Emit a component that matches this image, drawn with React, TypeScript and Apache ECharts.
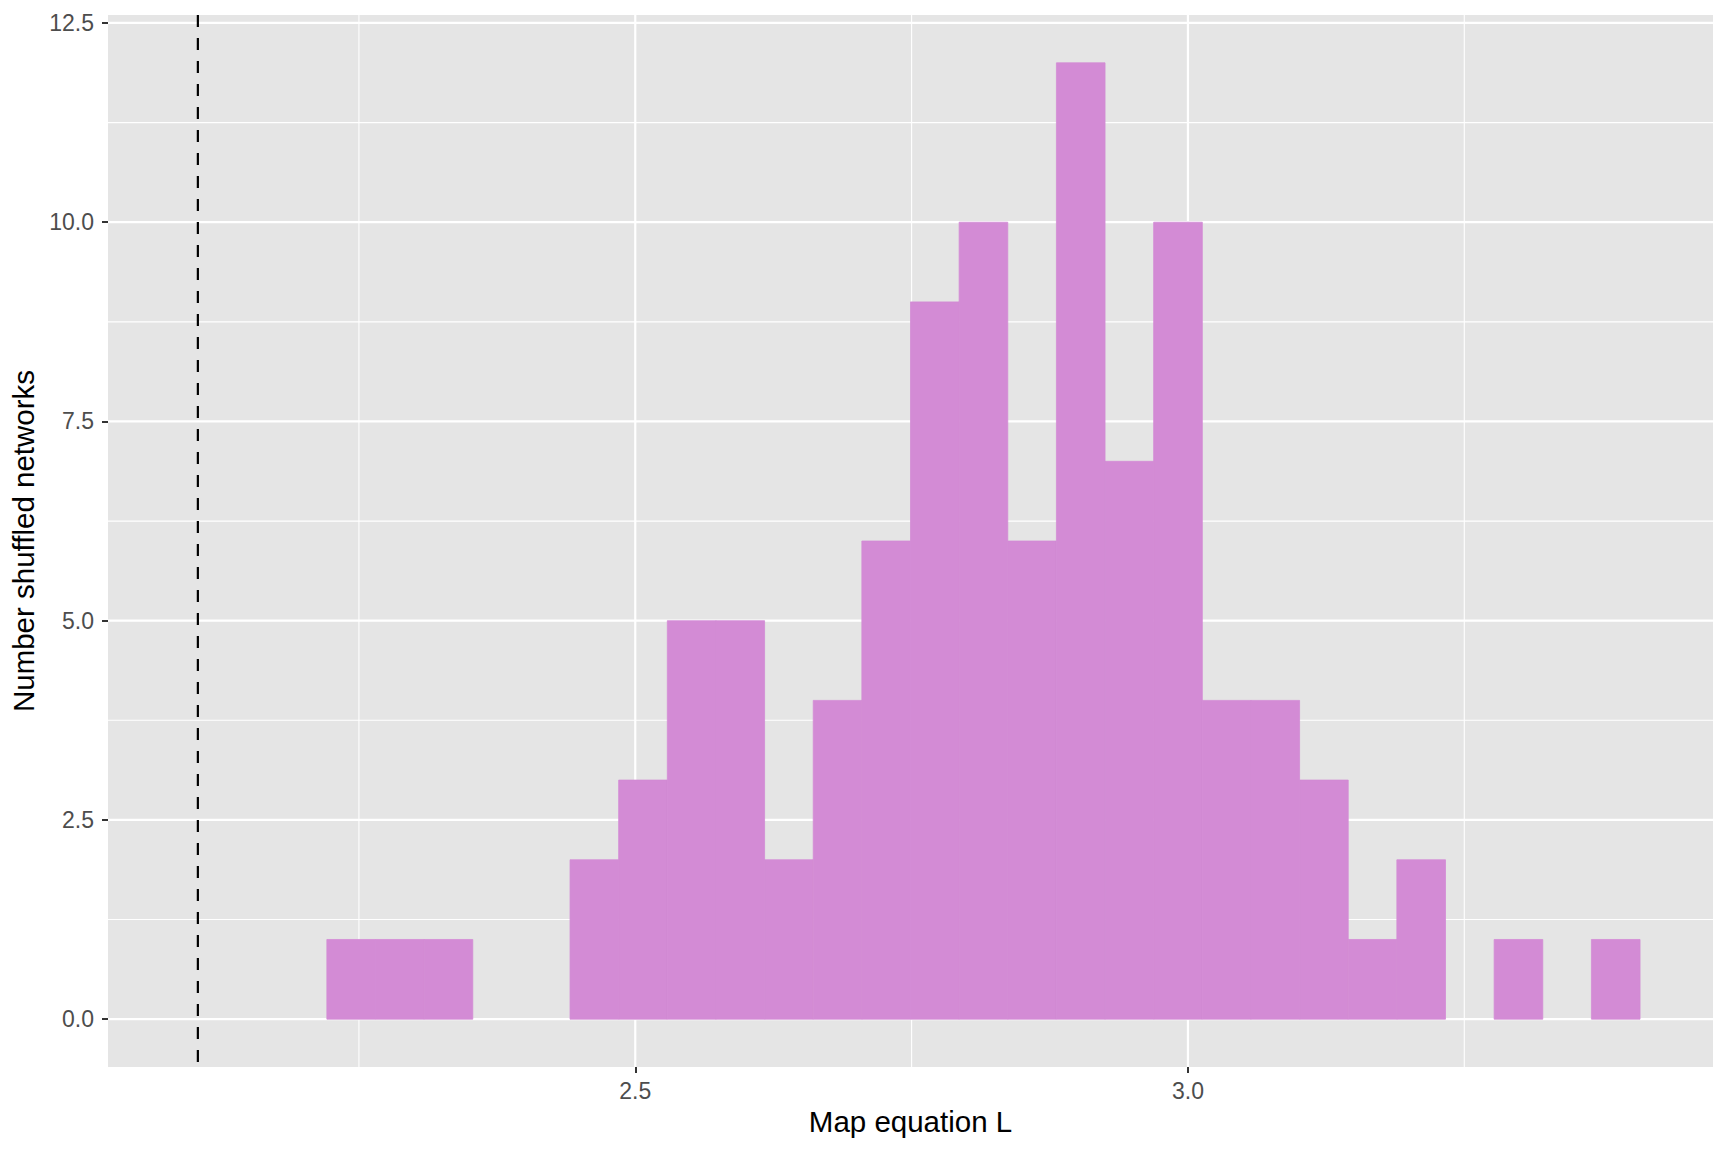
import React, { useEffect, useRef } from "react";
import * as echarts from "echarts";

// Histogram bins (30 bins, first three empty)
const BIN_START = 2.089;
const BIN_WIDTH = 0.044;
const counts = [0, 0, 0, 1, 1, 1, 0, 0, 2, 3, 5, 5, 2, 4, 6, 9, 10, 6, 12, 7, 10, 4, 4, 3, 1, 2, 0, 1, 0, 1];

// Observed value (dashed reference line)
const OBSERVED_L = 2.1043;

// Axis ranges and ticks
const X_MIN = 2.023;
const X_MAX = 3.475;
const Y_MIN = -0.6;
const Y_MAX = 12.6;
const xTicks = [2.5, 3.0];
const xMinor = [2.25, 2.75, 3.25];
const yTicks = [0, 2.5, 5, 7.5, 10, 12.5];
const yMinor = [1.25, 3.75, 6.25, 8.75, 11.25];

const X_TITLE = "Map equation L";
const Y_TITLE = "Number shuffled networks";

const FONT = "'Liberation Sans', Arial, Helvetica, sans-serif";
const BAR_COLOR = "#D38BD5";
const PANEL_BG = "#E5E5E5";

export default function App() {
  const ref = useRef<HTMLDivElement>(null);

  useEffect(() => {
    document.body.style.margin = "0";
    if (!ref.current) return;
    const chart = echarts.init(ref.current, null, { renderer: "svg" });

    const barData = counts.map((c, i) => [
      BIN_START + i * BIN_WIDTH,
      BIN_START + (i + 1) * BIN_WIDTH,
      c,
    ]);

    // gridline data: [value, orientation(0=horizontal,1=vertical), major(1)/minor(0)]
    const gridData: number[][] = [];
    yMinor.forEach((v) => gridData.push([v, 0, 0]));
    xMinor.forEach((v) => gridData.push([v, 1, 0]));
    yTicks.forEach((v) => gridData.push([v, 0, 1]));
    xTicks.forEach((v) => gridData.push([v, 1, 1]));

    const option: any = {
      animation: false,
      backgroundColor: "#FFFFFF",
      grid: {
        left: 108,
        right: 15,
        top: 15,
        bottom: 85,
        show: true,
        backgroundColor: PANEL_BG,
        borderWidth: 0,
      },
      xAxis: {
        type: "value",
        min: X_MIN,
        max: X_MAX,
        name: X_TITLE,
        nameLocation: "middle",
        nameGap: 38,
        nameTextStyle: { fontFamily: FONT, fontSize: 29.5, color: "#000000" },
        splitLine: { show: false },
        axisLine: { show: false, onZero: false },
        axisTick: {
          show: true,
          customValues: xTicks,
          length: 6,
          lineStyle: { color: "#333333", width: 2 },
        },
        axisLabel: {
          customValues: xTicks,
          formatter: (v: number) => v.toFixed(1),
          fontFamily: FONT,
          fontSize: 23,
          color: "#4D4D4D",
          margin: 12,
        },
      },
      yAxis: {
        type: "value",
        min: Y_MIN,
        max: Y_MAX,
        name: Y_TITLE,
        nameLocation: "middle",
        nameRotate: 90,
        nameGap: 69,
        nameTextStyle: { fontFamily: FONT, fontSize: 29.5, color: "#000000" },
        splitLine: { show: false },
        axisLine: { show: false, onZero: false },
        axisTick: {
          show: true,
          customValues: yTicks,
          length: 6,
          lineStyle: { color: "#333333", width: 2 },
        },
        axisLabel: {
          customValues: yTicks,
          formatter: (v: number) => v.toFixed(1),
          fontFamily: FONT,
          fontSize: 23,
          color: "#4D4D4D",
          margin: 14,
        },
      },
      series: [
        {
          type: "custom",
          name: "grid",
          z: 1,
          silent: true,
          data: gridData,
          encode: { x: 0, y: 0 },
          renderItem: (params: any, api: any) => {
            const v = api.value(0);
            const vertical = api.value(1) === 1;
            const major = api.value(2) === 1;
            let p1, p2;
            if (vertical) {
              p1 = api.coord([v, Y_MIN]);
              p2 = api.coord([v, Y_MAX]);
            } else {
              p1 = api.coord([X_MIN, v]);
              p2 = api.coord([X_MAX, v]);
            }
            return {
              type: "line",
              shape: { x1: p1[0], y1: p1[1], x2: p2[0], y2: p2[1] },
              style: { stroke: "#FFFFFF", lineWidth: major ? 2.2 : 1.1 },
            };
          },
        },
        {
          type: "custom",
          name: "counts",
          z: 2,
          data: barData,
          encode: { x: [0, 1], y: 2 },
          renderItem: (params: any, api: any) => {
            const x0 = api.value(0);
            const x1 = api.value(1);
            const c = api.value(2);
            if (!c) return null;
            const a = api.coord([x0, c]);
            const b = api.coord([x1, 0]);
            return {
              type: "rect",
              shape: { x: a[0], y: a[1], width: b[0] - a[0], height: b[1] - a[1] },
              style: { fill: BAR_COLOR, stroke: BAR_COLOR, lineWidth: 0.8 },
            };
          },
        },
        {
          type: "custom",
          name: "observed",
          z: 3,
          silent: true,
          data: [[OBSERVED_L]],
          encode: { x: 0, y: 0 },
          renderItem: (params: any, api: any) => {
            const v = api.value(0);
            const p1 = api.coord([v, Y_MAX]);
            const p2 = api.coord([v, Y_MIN]);
            return {
              type: "line",
              shape: { x1: p1[0], y1: p1[1], x2: p2[0], y2: p2[1] },
              style: { stroke: "#000000", lineWidth: 2.2, lineDash: [12, 11] },
            };
          },
        },
      ],
    };

    chart.setOption(option);
    return () => chart.dispose();
  }, []);

  return <div ref={ref} style={{ width: 1728, height: 1152 }} />;
}
